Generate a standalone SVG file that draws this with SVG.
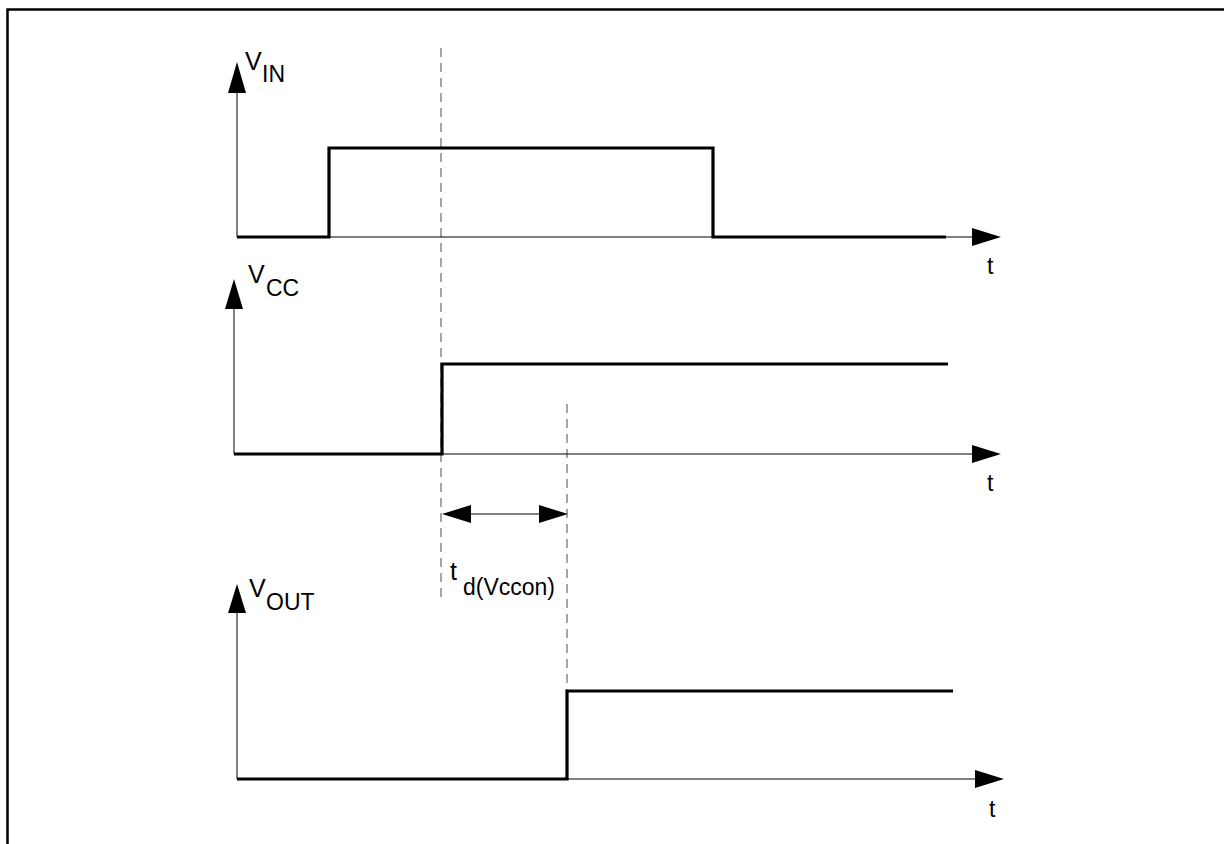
<svg xmlns="http://www.w3.org/2000/svg" width="1224" height="844" viewBox="0 0 1224 844">
<style>
.frame{fill:none;stroke:#000;stroke-width:2.5}
.axis{fill:none;stroke:#000;stroke-width:1}
.sig{fill:none;stroke:#000;stroke-width:3.2;stroke-linejoin:miter}
.dash{fill:none;stroke:#777;stroke-width:1.3;stroke-dasharray:9,6}
.ah{fill:#000;stroke:none}
text{font-family:"Liberation Sans",Arial,sans-serif;fill:#000}
.lbl{font-size:25px}
.sub{font-size:23px}
.t{font-size:23px}
</style>
<rect width="1224" height="844" fill="#fff"/>
<path class="frame" d="M7.5,844 V9.5 H1224"/>
<g id="connectors">
<path class="dash" d="M441,48 V602"/>
<path class="dash" d="M567,404 V692"/>
<line class="axis" x1="455" y1="514" x2="555" y2="514"/>
<polygon class="ah" points="442,514 471,505 471,523"/>
<polygon class="ah" points="568,514 539,505 539,523"/>
</g>
<g id="vin">
<line class="axis" x1="237" y1="90" x2="237" y2="237"/>
<polygon class="ah" points="237,62 228,93 246,93"/>
<line class="axis" x1="237" y1="237" x2="975" y2="237"/>
<polygon class="ah" points="1001,237 972,228 972,246"/>
<path class="sig" d="M237,237 H329 V148 H713 V237 H946"/>
<text class="lbl" x="245" y="70">V</text><text class="sub" x="262" y="82">IN</text>
<text class="t" x="987" y="274">t</text>
</g>
<g id="vcc">
<line class="axis" x1="234" y1="305" x2="234" y2="454"/>
<polygon class="ah" points="234,279 225,309 243,309"/>
<line class="axis" x1="234" y1="454" x2="975" y2="454"/>
<polygon class="ah" points="1001,454 972,445 972,463"/>
<path class="sig" d="M234,454 H442 V364 H948"/>
<text class="lbl" x="248" y="283">V</text><text class="sub" x="266" y="296">CC</text>
<text class="t" x="987" y="491">t</text>
</g>
<g id="vout">
<line class="axis" x1="237" y1="608" x2="237" y2="779"/>
<polygon class="ah" points="237,584 228,613 246,613"/>
<line class="axis" x1="237" y1="779" x2="978" y2="779"/>
<polygon class="ah" points="1004,779 975,770 975,788"/>
<path class="sig" d="M237,779 H567 V691 H953"/>
<text class="lbl" x="249" y="597">V</text><text class="sub" x="266" y="610">OUT</text>
<text class="t" x="989" y="817">t</text>
</g>
<g id="td">
<text class="lbl" x="450" y="580">t</text><text class="sub" x="463" y="595">d(Vccon)</text>
</g>
</svg>
